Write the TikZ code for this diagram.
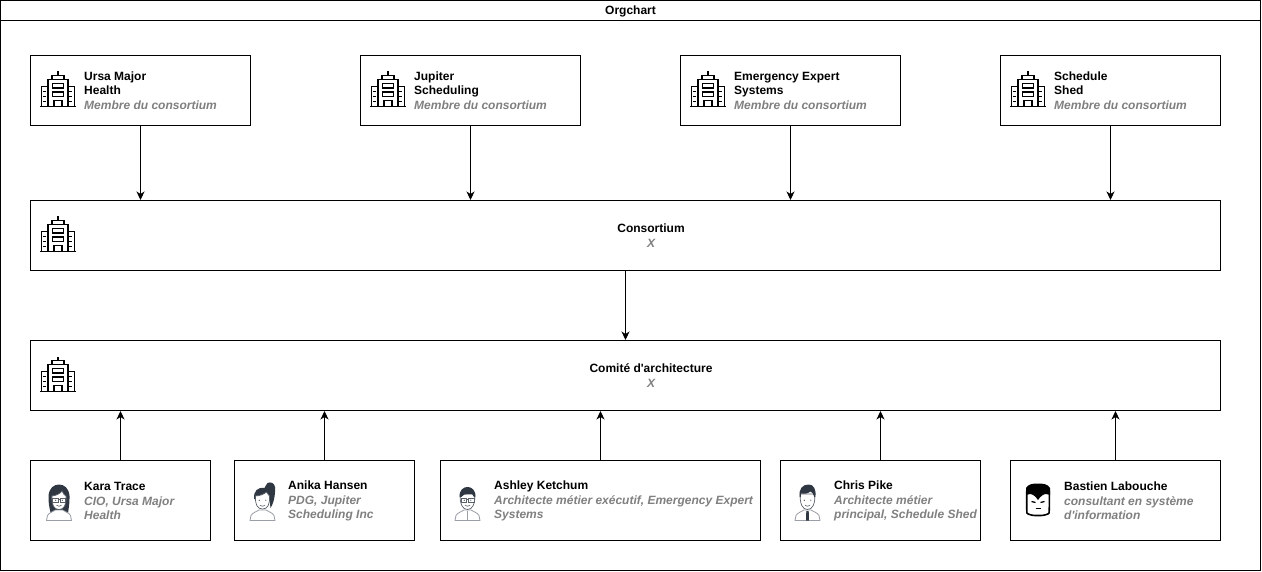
\documentclass[tikz,border=0pt]{standalone}
\usepackage{fontspec}
\newfontfamily\lib{Liberation Sans}
\usetikzlibrary{arrows.meta}
\definecolor{rolegray}{HTML}{808080}
\definecolor{hairdark}{HTML}{2F3742}
\definecolor{skinline}{HTML}{5A606A}
\definecolor{bodyline}{HTML}{9A9EA6}
\newcommand{\rl}[1]{{\color{rolegray}\itshape #1}}
% building icon: origin is the top-left corner of a 35x36 glyph
\newcommand{\bldg}[2]{%
\begin{scope}[shift={(#1,#2)},line width=1.4pt,line join=miter]
\draw (0,35.2) -- (35.5,35.2);
\draw (7.5,35.2) -- (7.5,8) -- (27.5,8) -- (27.5,35.2);
\draw (11.5,8) -- (11.5,4) -- (23.5,4) -- (23.5,8);
\draw (17.5,4) -- (17.5,0);
\draw (7.5,15) -- (0.8,15) -- (0.8,35.2);
\draw (27.5,15) -- (34.2,15) -- (34.2,35.2);
\draw[line width=1.2pt] (12,12) rectangle (23,16.5);
\draw[line width=1.2pt] (12,20.5) rectangle (23,25);
\draw[line width=1.2pt] (13.5,35.2) -- (13.5,29) -- (21.5,29) -- (21.5,35.2);
\foreach \yy in {20,25,30}{
\draw[line width=1.2pt] (3,\yy) -- (6,\yy);
\draw[line width=1.2pt] (29,\yy) -- (32,\yy);}
\end{scope}}
% shared parts of the person icons: origin is top centre of the icon
\newcommand{\shoulders}{%
\draw[bodyline,line width=.8pt,fill=white] (-12.5,38.5) -- (-11.5,33.5) .. controls (-10,30.5) and (-6,30) .. (-3.5,28) -- (3.5,28) .. controls (6,30) and (10,30.5) .. (11.5,33.5) -- (12.5,38.5) -- cycle;}
\newcommand{\faceshape}{%
\draw[skinline,line width=.7pt,fill=white] (-7.3,12) .. controls (-7.8,22) and (-5,27.5) .. (0,27.5) .. controls (5,27.5) and (7.8,22) .. (7.3,12) -- cycle;}
\newcommand{\specs}{%
\draw[skinline,line width=.8pt] (-6.5,16.5) rectangle (-1,20) (1,16.5) rectangle (6.5,20) (-1,17.5) -- (1,17.5);}
\newcommand{\eyes}{%
\fill[hairdark] (-3.3,18.2) circle (.6) (3.3,18.2) circle (.6);}
\newcommand{\mouth}{%
\draw[skinline,line width=.6pt] (-2.5,23.2) .. controls (-1,24.6) and (1,24.6) .. (2.5,23.2);}
\tikzset{
  every node/.style={font=\lib\bfseries\fontsize{12}{14.5}\selectfont},
  box/.style={draw=black,line width=1pt,fill=white,rectangle,inner sep=0pt},
  txt/.style={align=left,anchor=west,inner sep=0pt},
  mid/.style={align=center,inner sep=0pt},
  link/.style={draw=black,line width=1pt,-{Stealth[length=8.5pt,width=8pt,inset=2.5pt]}},
}
\begin{document}
\begin{tikzpicture}[x=1pt,y=-1pt]
\useasboundingbox (0,0) rectangle (1262,572);
\node[box,minimum width=1260pt,minimum height=570pt] (frame) at (630.5,285.5) {};
\node[box,minimum width=1260pt,minimum height=20pt] (head) at (630.5,10.5) {};
\node[mid] (title) at (630.5,11.2) {Orgchart};

\node[box,minimum width=220pt,minimum height=70pt] (ursa) at (140.5,90.5) {};
\node[box,minimum width=220pt,minimum height=70pt] (jup) at (470.5,90.5) {};
\node[box,minimum width=220pt,minimum height=70pt] (emer) at (790.5,90.5) {};
\node[box,minimum width=220pt,minimum height=70pt] (shed) at (1110.5,90.5) {};
\node[box,minimum width=1190pt,minimum height=70pt] (cons) at (625.5,235.5) {};
\node[box,minimum width=1190pt,minimum height=70pt] (comi) at (625.5,375.5) {};
\node[box,minimum width=180pt,minimum height=80pt] (kara) at (120.5,500.5) {};
\node[box,minimum width=180pt,minimum height=80pt] (anik) at (324.5,500.5) {};
\node[box,minimum width=320pt,minimum height=80pt] (ashl) at (600.5,500.5) {};
\node[box,minimum width=200pt,minimum height=80pt] (chri) at (880.5,500.5) {};
\node[box,minimum width=210pt,minimum height=80pt] (bast) at (1115.5,500.5) {};

\node[txt] (ursaT) at (84,90.6) {Ursa Major\\Health\\\rl{Membre du consortium}};
\node[txt] (jupT) at (414,90.6) {Jupiter\\Scheduling\\\rl{Membre du consortium}};
\node[txt] (emerT) at (734,90.6) {Emergency Expert\\Systems\\\rl{Membre du consortium}};
\node[txt] (shedT) at (1054,90.6) {Schedule\\Shed\\\rl{Membre du consortium}};
\node[mid] (consT) at (651,235.5) {Consortium\\\rl{X}};
\node[mid] (comiT) at (651,375.5) {Comité d'architecture\\\rl{X}};
\node[txt] (karaT) at (84,501.2) {Kara Trace\\\rl{CIO, Ursa Major}\\\rl{Health}};
\node[txt] (anikT) at (288,501.2) {Anika Hansen\\\rl{PDG, Jupiter}\\\rl{Scheduling Inc}};
\node[txt] (ashlT) at (494,501.2) {Ashley Ketchum\\\rl{Architecte métier exécutif, Emergency Expert}\\\rl{Systems}};
\node[txt] (chriT) at (834,501.2) {Chris Pike\\\rl{Architecte métier}\\\rl{principal, Schedule Shed}};
\node[txt] (bastT) at (1064,501.2) {Bastien Labouche\\\rl{consultant en système}\\\rl{d'information}};

\draw[link] (ursa.south) -- (ursa.south |- cons.north);
\draw[link] (jup.south) -- (jup.south |- cons.north);
\draw[link] (emer.south) -- (emer.south |- cons.north);
\draw[link] (shed.south) -- (shed.south |- cons.north);
\draw[link] (cons.south) -- (comi.north);
\draw[link] (kara.north) -- (kara.north |- comi.south);
\draw[link] (anik.north) -- (anik.north |- comi.south);
\draw[link] (ashl.north) -- (ashl.north |- comi.south);
\draw[link] (chri.north) -- (chri.north |- comi.south);
\draw[link] (bast.north) -- (bast.north |- comi.south);

\bldg{40.4}{71.5}\bldg{370.4}{71.5}\bldg{690.4}{71.5}\bldg{1010.4}{71.5}
\bldg{40.4}{216.5}\bldg{40.4}{356.5}

% Kara
\begin{scope}[shift={(59,482)}]
\fill[hairdark] (-9,38) .. controls (-6,34) and (-11,26) .. (-10.5,14) .. controls (-10,6) and (-5,2.5) .. (0,2.5) .. controls (5,2.5) and (10,6) .. (10.5,14) .. controls (11,26) and (7,34) .. (10,38) -- (6,31) -- (-6,31) -- cycle;
\shoulders
\draw[skinline,line width=.7pt,fill=white] (-7,14) .. controls (-3,13.5) and (1,12) .. (3,9) .. controls (4,12) and (6,13.5) .. (7,14) .. controls (7.5,23) and (5,27.5) .. (0,27.5) .. controls (-5,27.5) and (-7.5,23) .. (-7,14) -- cycle;
\specs\eyes\mouth
\end{scope}
% Anika
\begin{scope}[shift={(262.5,482)}]
\fill[hairdark] (8,26) .. controls (12,20) and (13,10) .. (12.5,5) .. controls (12,1) and (8,-.5) .. (5,1) .. controls (3,3) and (3,5) .. (2,6) .. controls (-5,5) and (-9,9) .. (-8.5,17) -- (7,17) -- cycle;
\shoulders
\draw[skinline,line width=.7pt,fill=white] (-7,14) .. controls (-3,14) and (2,12) .. (4,10) .. controls (5,12) and (6.5,13) .. (7,14) .. controls (7.5,23) and (5,27) .. (0,27) .. controls (-5,27) and (-7.5,23) .. (-7,14) -- cycle;
\eyes\mouth
\end{scope}
% Ashley
\begin{scope}[shift={(467.5,482)}]
\shoulders
\draw[bodyline,line width=.6pt] (0,29) -- (0,38.5);
\faceshape
\fill[hairdark] (-7.8,15) .. controls (-8.5,8) and (-4,5) .. (0,5) .. controls (4,5) and (8.5,8) .. (7.8,15) -- (6.5,15) .. controls (6,12) and (4,11.5) .. (1,12) .. controls (-2,12.5) and (-5,12) .. (-6.3,15) -- cycle;
\specs\eyes\mouth
\end{scope}
% Chris
\begin{scope}[shift={(807.5,482)}]
\shoulders
\faceshape
\fill[hairdark] (-7.8,15) .. controls (-9,7) and (-5,2.5) .. (1,2.5) .. controls (6,2.5) and (9,7) .. (7.8,15) -- (6.8,15) .. controls (6,12) and (5,10) .. (3,9.5) .. controls (0,12) and (-4,12) .. (-6.5,11.5) -- (-6.8,15) -- cycle;
\eyes\mouth
\fill[hairdark] (-1.2,29) -- (1.2,29) -- (1.5,38.5) -- (-1.5,38.5) -- cycle;
\end{scope}
% Bastien
\begin{scope}[shift={(1038,482)}]
\draw[black,line width=1.6pt,fill=white,rounded corners=3pt] (-11.3,6) -- (-11.3,28) .. controls (-11,32) and (-6,33.5) .. (0,33.5) .. controls (6,33.5) and (11,32) .. (11.3,28) -- (11.3,6) -- cycle;
\fill[black] (-12,13) -- (-12,6) .. controls (-10,2) and (-5,1.5) .. (0,1.5) .. controls (5,1.5) and (10,2) .. (12,6) -- (12,13) -- (8,12) .. controls (5,12) and (2,15) .. (0,18) .. controls (-2,15) and (-5,12) .. (-8,12) -- cycle;
\draw[black,line width=1.3pt] (-6.5,19.5) -- (-2.5,20.5) (6.5,19.5) -- (2.5,20.5);
\draw[black,line width=.7pt] (-2.5,26) -- (2.5,26);
\end{scope}
\end{tikzpicture}
\end{document}
